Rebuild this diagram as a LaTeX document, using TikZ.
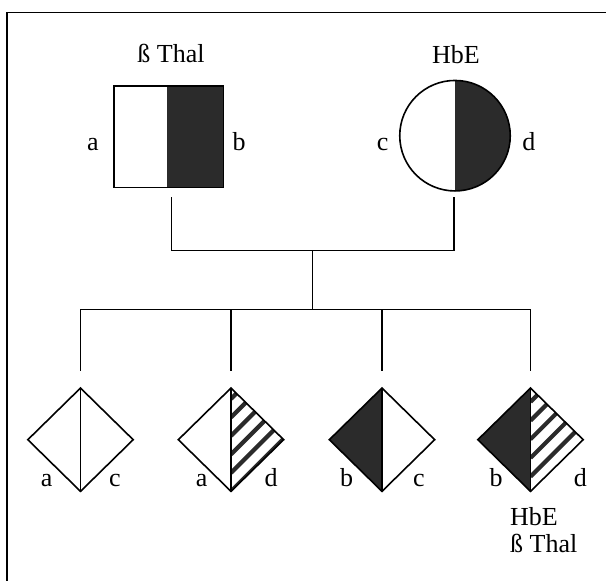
\documentclass[tikz,border=0pt]{standalone}
\usepackage{fontspec}
\setmainfont{Liberation Serif}
\usetikzlibrary{shapes.geometric,calc}
\definecolor{darkfill}{HTML}{2B2B2B}
\begin{document}
\begin{tikzpicture}[x=1pt,y=-1pt,
  conn/.style={line width=1.3pt},
  outline/.style={draw, line width=1.6pt},
  lab/.style={inner sep=0pt, anchor=base, font=\fontsize{26}{30}\selectfont},
  kid/.style={diamond, outline, minimum width=106pt, minimum height=104pt, inner sep=0pt},
  stripe/.style={line width=4.2pt, darkfill},
  splitline/.style={line width=1.6pt, shorten >=0.8pt, shorten <=0.8pt}]
\fill[white] (0,0) rectangle (606,581);
\useasboundingbox (0,0) rectangle (606,581);
% frame
\coordinate (frame) at (7,12.5);
\draw[conn] (606,12.5) -- (frame) -- (7,581);
% parents
\node[outline, rectangle, minimum width=109.5pt, minimum height=101.7pt, inner sep=0pt,
  path picture={\fill[darkfill] ($(path picture bounding box.north)+(-2,0)$) rectangle (path picture bounding box.south east);}]
  (father) at (168.7,136.7) {};
\node[outline, circle, minimum size=110.5pt, inner sep=0pt,
  path picture={\fill[darkfill] (path picture bounding box.north) rectangle (path picture bounding box.south east);}]
  (mother) at (455,135.7) {};
\node[lab] (tthal) at (171,62.7) {ß Thal};
\node[lab] (thbe) at (456,63.3) {HbE};
\node[lab] (la) at (93,150.7) {a};
\node[lab] (lb) at (239,150.7) {b};
\node[lab] (lc) at (382.7,150.7) {c};
\node[lab] (ld) at (528.8,150.7) {d};
% children
\node[kid] (k1) at (80.5,439.7) {};
\node[kid, path picture={
    \clip (path picture bounding box.north) rectangle (path picture bounding box.south east);
    \foreach \i in {0,...,5}{\draw[stripe] ($(path picture bounding box.south)+(0,-18.5*\i)$) -- ++(80,-80);}
  }] (k2) at (231,439.7) {};
\node[kid, path picture={\fill[darkfill] (path picture bounding box.north west) rectangle (path picture bounding box.south);}] (k3) at (382,439.7) {};
\node[kid, path picture={
    \fill[darkfill] (path picture bounding box.north west) rectangle (path picture bounding box.south);
    \clip (path picture bounding box.north) rectangle (path picture bounding box.south east);
    \foreach \i in {0,...,4}{\draw[stripe] ($(path picture bounding box.south)+(0,-14.7-18.7*\i)$) -- ++(80,-80);}
  }] (k4) at (530.5,439.7) {};
\foreach \k in {k1,k2,k3,k4}{\draw[splitline] (\k.north) -- (\k.south);}
% child labels
\node[lab] (k1a) at (46.7,486) {a};
\node[lab] (k1c) at (115,486) {c};
\node[lab] (k2a) at (201.7,486) {a};
\node[lab] (k2d) at (271,486) {d};
\node[lab] (k3b) at (346.7,486) {b};
\node[lab] (k3c) at (419,486) {c};
\node[lab] (k4b) at (496,486) {b};
\node[lab] (k4d) at (580.3,486) {d};
\node[lab, anchor=base west] (bhbe) at (510,525) {HbE};
\node[lab, anchor=base west] (bthal) at (510,552.7) {ß Thal};
% connectors
\coordinate (fs) at ($(father.south)+(3,9)$);
\coordinate (ms) at ($(mother.south)+(-1,5)$);
\coordinate (mar) at (312.7,250.7);
\coordinate (sib) at (312.7,309.3);
\draw[conn] (fs) |- (mar) -| (ms);
\draw[conn] (mar) -- (sib);
\draw[conn] (k1.north |- sib) -- (k4.north |- sib);
\foreach \k in {k1,k2,k3,k4}{\draw[conn] (\k.north |- sib) -- ($(\k.north)+(0,-15.5)$);}
\end{tikzpicture}
\end{document}
